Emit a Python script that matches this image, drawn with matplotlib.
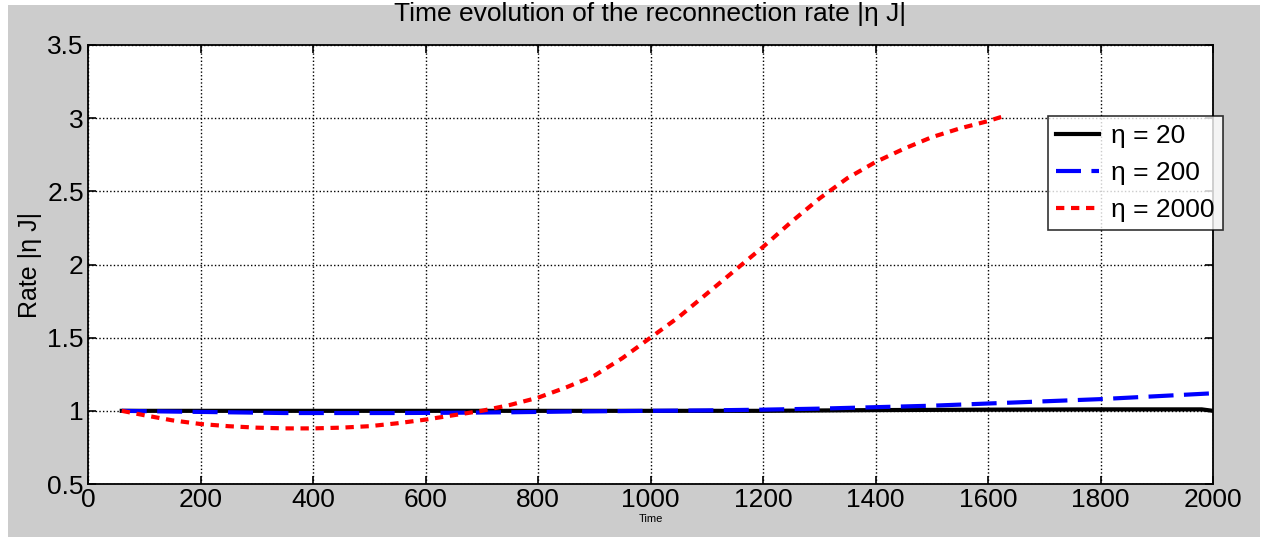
import numpy as np
import matplotlib.pyplot as plt
from matplotlib.patches import Rectangle

# values
t_black = [60, 200, 400, 600, 800, 1000, 1200, 1400, 1600, 1800, 1980, 2000]
rate_black = [1.0, 1.0, 1.0, 1.0, 1.0, 1.0, 1.0, 1.005, 1.008, 1.01, 1.01, 1.0]

t_blue = [60, 150, 250, 350, 450, 550, 650, 750, 850, 1000, 1100, 1200, 1300, 1400, 1500, 1600, 1700, 1800, 1900, 2000]
rate_blue = [1.0, 0.995, 0.99, 0.985, 0.985, 0.985, 0.987, 0.99, 0.995, 1.0, 1.003, 1.008, 1.015, 1.025, 1.035, 1.05, 1.065, 1.08, 1.1, 1.12]

t_red = [60, 100, 150, 200, 250, 300, 350, 400, 450, 500, 550, 600, 650, 700, 750, 800, 850, 900, 950,
         1000, 1050, 1100, 1150, 1200, 1250, 1300, 1350, 1400, 1450, 1500, 1550, 1600, 1625]
rate_red = [1.0, 0.97, 0.935, 0.91, 0.895, 0.885, 0.88, 0.88, 0.885, 0.895, 0.915, 0.94, 0.97, 1.0, 1.04, 1.09, 1.16, 1.24, 1.36,
            1.5, 1.64, 1.8, 1.96, 2.12, 2.29, 2.45, 2.59, 2.7, 2.79, 2.87, 2.93, 2.98, 3.01]

labels = ["\u03b7 = 20", "\u03b7 = 200", "\u03b7 = 2000"]

plt.rcParams['font.family'] = ['Liberation Sans', 'DejaVu Sans']

fig = plt.figure(figsize=(12.72, 5.39), dpi=100)
fig.patch.set_facecolor('white')
fig.patches.append(Rectangle((8 / 1272, 2 / 539), 1252 / 1272, 532 / 539,
                             transform=fig.transFigure, facecolor='#cccccc',
                             edgecolor='none', zorder=-10))
ax = fig.add_axes([88 / 1272, 1 - 484 / 539, 1125 / 1272, 439 / 539])
ax.set_facecolor('white')

ax.plot(t_black, rate_black, color='black', lw=3, label=labels[0])
ax.plot(t_blue, rate_blue, color='blue', lw=3, linestyle=(0, (6, 2.5)), label=labels[1])
ax.plot(t_red, rate_red, color='red', lw=3, linestyle=(0, (2, 1.6)), label=labels[2])

ax.set_xlim(0, 2000)
ax.set_ylim(0.5, 3.5)
ax.set_xticks(np.arange(0, 2001, 200))
ax.set_yticks(np.arange(0.5, 3.51, 0.5))
ax.set_yticklabels(['0.5', '1', '1.5', '2', '2.5', '3', '3.5'])
ax.grid(True, color='black', linestyle=(0, (1, 1.6)), linewidth=1)
ax.tick_params(direction='in', labelsize=19, length=6, width=1.2, top=True, right=True, pad=3)
for s in ax.spines.values():
    s.set_linewidth(1.3)

ax.set_title("Time evolution of the reconnection rate |\u03b7 J|", fontsize=19, pad=17)
ax.set_ylabel("Rate |\u03b7 J|", fontsize=18, labelpad=4)
ax.set_xlabel("Time", fontsize=8, labelpad=1)

leg = ax.legend(loc='upper left', bbox_to_anchor=(1048 / 1272, 1 - 116 / 539),
                bbox_transform=fig.transFigure, fontsize=19, frameon=True,
                fancybox=False, edgecolor='black', handlelength=1.65,
                borderpad=0.3, labelspacing=0.5, handletextpad=0.45,
                borderaxespad=0)
leg.get_frame().set_linewidth(1.2)

fig.savefig("out.png", dpi=100, facecolor=fig.get_facecolor())
